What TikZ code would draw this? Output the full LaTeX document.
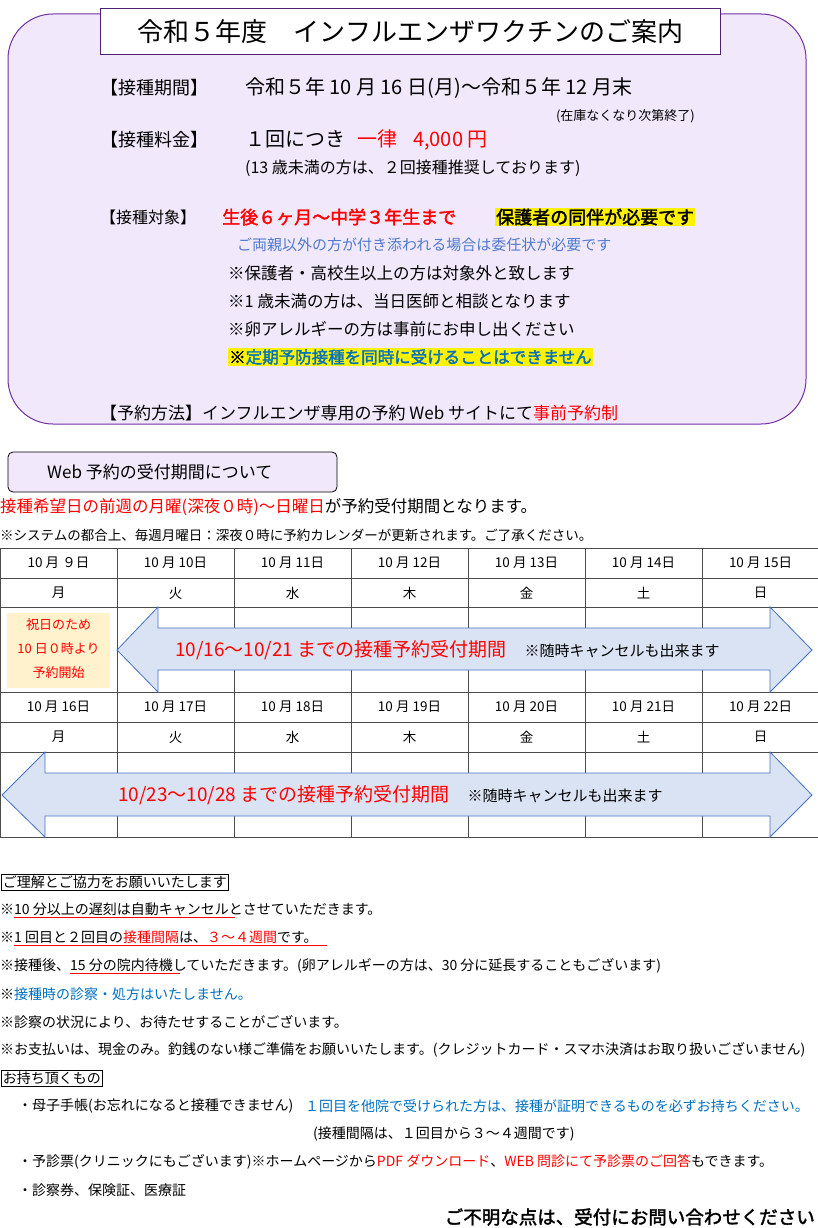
\documentclass[tikz,border=0pt]{standalone}
\usepackage{fontspec}
\setmainfont{Noto Sans CJK JP}[AutoFakeBold=2]
\usepackage{xcolor}
\usetikzlibrary{positioning}
\definecolor{lavender}{HTML}{F1E8FB}
\definecolor{purpleline}{HTML}{7030A0}
\definecolor{warnred}{HTML}{FF0000}
\definecolor{softblue}{HTML}{4F7BD0}
\definecolor{deepblue}{HTML}{0070C0}
\definecolor{arrowfill}{HTML}{DAE3F3}
\definecolor{arrowline}{HTML}{4472C4}
\definecolor{beige}{HTML}{FFF2CC}
\newcommand{\fsz}[1]{\fontsize{#1}{#1}\selectfont}
\tikzset{
  txt/.style={anchor=west, inner sep=0pt},
  hilite/.style={txt, fill=yellow, inner sep=1pt},
  framed/.style={txt, draw, inner sep=1.5pt, line width=0.6pt},
  grid/.style={line width=0.5pt, black!70},
  band/.style={draw=arrowline, fill=arrowfill, line width=0.8pt},
  uline/.style={draw=warnred, line width=0.8pt}
}
\begin{document}
\begin{tikzpicture}[x=1pt,y=-1pt]
  \useasboundingbox (0,0) rectangle (818,1228);
  % guidance panel
  \draw[purpleline, fill=lavender, line width=1pt, rounded corners=45pt] (8,14) rectangle (806,424);
  \node[draw=purpleline!70!black, fill=white, line width=1pt, minimum width=620pt, minimum height=46pt, anchor=north west, inner sep=0pt] (title) at (100,8) {\fsz{26}令和５年度　インフルエンザワクチンのご案内};
  \node[txt] (periodkey) at (100,88) {\fsz{18}【接種期間】};
  \node[txt] (period) at (245,88) {\fsz{20}令和５年 10 月 16 日(月)〜令和５年 12 月末};
  \node[anchor=east, inner sep=0pt] (stock) at (695,116) {\fsz{13}(在庫なくなり次第終了)};
  \node[txt] (feekey) at (100,140) {\fsz{18}【接種料金】};
  \node[txt] (fee) at (245,140) {\fsz{20}１回につき\hspace{12pt}\textcolor{warnred}{一律\hspace{16pt}4,000 円}};
  \node[txt] (feenote) at (245,168) {\fsz{16}(13 歳未満の方は、２回接種推奨しております)};
  \node[txt] (targetkey) at (100,217) {\fsz{16}【接種対象】};
  \node[txt] (target) at (222,217) {\fsz{18}\bfseries\textcolor{warnred}{生後６ヶ月〜中学３年生まで}};
  \node[hilite] (guard) at (495,217) {\fsz{18}\bfseries 保護者の同伴が必要です};
  \node[txt] (proxy) at (237,245) {\fsz{15}\textcolor{softblue}{ご両親以外の方が付き添われる場合は委任状が必要です}};
  \node[txt] (note1) at (228,273) {\fsz{16.5}※保護者・高校生以上の方は対象外と致します};
  \node[txt] (note2) at (228,301) {\fsz{16.5}※1 歳未満の方は、当日医師と相談となります};
  \node[txt] (note3) at (228,329) {\fsz{16.5}※卵アレルギーの方は事前にお申し出ください};
  \node[hilite] (note4) at (228,357) {\fsz{16.5}\bfseries ※\textcolor{deepblue}{定期予防接種を同時に受けることはできません}};
  \node[txt] (booking) at (100,413) {\fsz{17}【予約方法】インフルエンザ専用の予約 Web サイトにて\textcolor{warnred}{事前予約制}};
  % web booking section
  \draw[fill=lavender, line width=0.8pt, rounded corners=5pt] (8,452) rectangle (337,492);
  \node[txt] (tab) at (47,472) {\fsz{17}Web 予約の受付期間について};
  \node[txt] (rule) at (0,507) {\fsz{16.5}\textcolor{warnred}{接種希望日の前週の月曜(深夜０時)〜日曜日}が予約受付期間となります。};
  \node[txt] (system) at (0,535) {\fsz{13.5}※システムの都合上、毎週月曜日：深夜０時に予約カレンダーが更新されます。ご了承ください。};
  % calendar grid
  \foreach \y in {548,578,607,692,722,752,837}
    \draw[grid] (0,\y) -- (818,\y);
  \foreach \x in {0,117,234,351,468,585,702,818}
    \draw[grid] (\x,548) -- (\x,837);
  \foreach \d/\w [count=\i from 0] in {９/月,10/火,11/水,12/木,13/金,14/土,15/日} {
    \node[inner sep=0pt] (date\i) at (58.5+117*\i,563) {\fsz{13.5}10 月 \d 日};
    \node[inner sep=0pt] (day\i) at (58.5+117*\i,593) {\fsz{13.5}\w};
  }
  \foreach \d/\w [count=\i from 0] in {16/月,17/火,18/水,19/木,20/金,21/土,22/日} {
    \node[inner sep=0pt] (dateb\i) at (58.5+117*\i,707) {\fsz{13.5}10 月 \d 日};
    \node[inner sep=0pt] (dayb\i) at (58.5+117*\i,737) {\fsz{13.5}\w};
  }
  \fill[beige] (7,613) rectangle (110,688);
  \node[inner sep=0pt, text=warnred] (holiday) at (58.5,650) {\fsz{13}\begin{tabular}{@{}c@{}}祝日のため\\[9pt]10 日０時より\\[9pt]予約開始\end{tabular}};
  % booking windows
  \draw[band] (117,650) -- (158,607) -- (158,628) -- (770,628) -- (770,607) -- (812,650)
    -- (770,692) -- (770,670) -- (158,670) -- (158,692) -- cycle;
  \node[txt] (window1) at (175,650) {\fsz{19}\textcolor{warnred}{10/16〜10/21 までの接種予約受付期間}\hspace{18pt}\fsz{15}※随時キャンセルも出来ます};
  \draw[band] (2,795) -- (45,752) -- (45,773) -- (770,773) -- (770,752) -- (812,795)
    -- (770,837) -- (770,816) -- (45,816) -- (45,837) -- cycle;
  \node[txt] (window2) at (118,795) {\fsz{19}\textcolor{warnred}{10/23〜10/28 までの接種予約受付期間}\hspace{18pt}\fsz{15}※随時キャンセルも出来ます};
  % requests
  \node[framed] (cooperate) at (1,882) {\fsz{14}ご理解とご協力をお願いいたします};
  \draw[uline] (14,917) -- (235,917);
  \draw[uline] (14,945) -- (327,945);
  \draw[uline] (70,973) -- (180,973);
  \node[txt] (req1) at (0,909) {\fsz{14}※10 分以上の遅刻は自動キャンセルとさせていただきます。};
  \node[txt] (req2) at (0,937) {\fsz{14}※1 回目と２回目の\textcolor{warnred}{接種間隔}は、\textcolor{warnred}{３〜４週間}です。};
  \node[txt] (req3) at (0,966) {\fsz{14}※接種後、15 分の院内待機していただきます。(卵アレルギーの方は、30 分に延長することもございます)};
  \node[txt] (req4) at (0,994) {\fsz{14}※\textcolor{deepblue}{接種時の診察・処方はいたしません。}};
  \node[txt] (req5) at (0,1022) {\fsz{14}※診察の状況により、お待たせすることがございます。};
  \node[txt] (req6) at (0,1050) {\fsz{14}※お支払いは、現金のみ。釣銭のない様ご準備をお願いいたします。(クレジットカード・スマホ決済はお取り扱いございません)};
  \node[framed] (bring) at (1,1078) {\fsz{14}お持ち頂くもの};
  \node[txt] (item1) at (18,1106) {\fsz{14}・母子手帳(お忘れになると接種できません)};
  \node[txt] (item1b) at (305,1106) {\fsz{14}\textcolor{deepblue}{１回目を他院で受けられた方は、接種が証明できるものを必ずお持ちください。}};
  \node[txt] (item1c) at (313,1134) {\fsz{14}(接種間隔は、１回目から３〜４週間です)};
  \node[txt] (item2) at (18,1162) {\fsz{14}・予診票(クリニックにもございます)※ホームページから\textcolor{warnred}{PDF ダウンロード}、\textcolor{warnred}{WEB 問診にて予診票のご回答}もできます。};
  \node[txt] (item3) at (18,1190) {\fsz{14}・診察券、保険証、医療証};
  \node[anchor=east, inner sep=0pt] (contact) at (815,1217) {\fsz{18.5}\bfseries ご不明な点は、受付にお問い合わせください};
\end{tikzpicture}
\end{document}
